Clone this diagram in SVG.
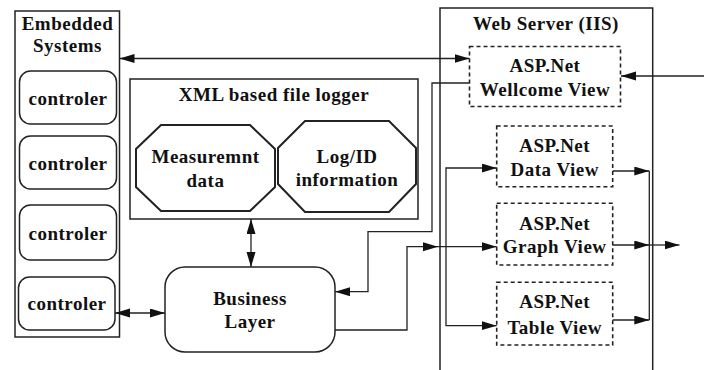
<svg xmlns="http://www.w3.org/2000/svg" width="704" height="370" viewBox="0 0 704 370">
<style>
text{font-family:"Liberation Serif","Times New Roman",serif;font-weight:bold;font-size:19px;fill:#111;text-anchor:middle;letter-spacing:0.5px}
.box{fill:#fff;stroke:#222;stroke-width:1.5}
.oct{fill:#fff;stroke:#222;stroke-width:2}
.dash{fill:#fff;stroke:#222;stroke-width:1.6;stroke-dasharray:4 3}
.ln{fill:none;stroke:#222;stroke-width:1.3}
.arr{marker-end:url(#ah)}
.dbl{marker-start:url(#ah);marker-end:url(#ah)}
</style>
<defs>
<marker id="ah" markerUnits="userSpaceOnUse" markerWidth="16" markerHeight="10" refX="15" refY="4.5" orient="auto-start-reverse">
<path d="M0,0 L15,4.5 L0,9 z" fill="#111"/>
</marker>
</defs>
<rect width="704" height="370" fill="#fff"/>

<g id="embedded-systems">
<rect class="box" x="15" y="11" width="104.5" height="326"/>
<text x="67.5" y="30">Embedded</text>
<text x="67.5" y="52">Systems</text>
</g>
<g id="controler-1"><rect class="box" x="19.5" y="71" width="97" height="53" rx="11"/><text x="68" y="105">controler</text></g>
<g id="controler-2"><rect class="box" x="19.5" y="136" width="97" height="53" rx="11"/><text x="68" y="170">controler</text></g>
<g id="controler-3"><rect class="box" x="19.5" y="205" width="97" height="55" rx="11"/><text x="68" y="239.5">controler</text></g>
<g id="controler-4"><rect class="box" x="18.5" y="277" width="96.5" height="53" rx="11"/><text x="67" y="309.5">controler</text></g>

<g id="xml-logger">
<rect class="box" x="130" y="79" width="288" height="140"/>
<text x="274" y="100.5">XML based file logger</text>
</g>
<g id="measurement-data">
<polygon class="oct" points="161,125 250,125 275,149 275,187 250,211 161,211 136,187 136,149"/>
<text x="205.5" y="163">Measuremnt</text>
<text x="205.5" y="187">data</text>
</g>
<g id="log-id-information">
<polygon class="oct" points="305,121 389,121 416,148 416,184 389,212 305,212 278,184 278,148"/>
<text x="347" y="162.5">Log/ID</text>
<text x="347" y="186">information</text>
</g>

<g id="business-layer">
<rect class="box" x="165" y="267" width="170" height="85" rx="20"/>
<text x="250" y="305">Business</text>
<text x="250" y="328">Layer</text>
</g>

<g id="web-server">
<rect class="box" x="440" y="8" width="212.7" height="400" fill="none"/>
<text x="546" y="30">Web Server (IIS)</text>
</g>
<g id="wellcome-view">
<rect class="dash" x="469.5" y="46.5" width="151" height="60"/>
<text x="545" y="71.5">ASP.Net</text>
<text x="545" y="96">Wellcome View</text>
</g>
<g id="data-view">
<rect class="dash" x="496.7" y="126" width="116" height="60.7"/>
<text x="554.7" y="151.5">ASP.Net</text>
<text x="554.7" y="176">Data View</text>
</g>
<g id="graph-view">
<rect class="dash" x="496.7" y="203.3" width="116" height="61.7"/>
<text x="554.7" y="230">ASP.Net</text>
<text x="554.7" y="252.5">Graph View</text>
</g>
<g id="table-view">
<rect class="dash" x="496.7" y="282.3" width="116" height="62.7"/>
<text x="554.7" y="308.3">ASP.Net</text>
<text x="554.7" y="333.5">Table View</text>
</g>

<g id="connectors">
<line class="ln dbl" x1="119.5" y1="58.5" x2="469.5" y2="58.5"/>
<line class="ln arr" x1="704" y1="76" x2="621" y2="76"/>
<polyline class="ln arr" points="469.5,83 432,83 432,231.7 368,231.7 368,291.7 335,291.7"/>
<polyline class="ln arr" points="335,330 407,330 407,246.7 438,246.7"/>
<line class="ln arr" x1="438" y1="246.7" x2="496.7" y2="246.7"/>
<polyline class="ln dbl" points="496.7,168 446,168 446,325.7 496.7,325.7"/>
<line class="ln arr" x1="612.7" y1="171" x2="649.3" y2="171"/>
<line class="ln arr" x1="612.7" y1="245" x2="649.3" y2="245"/>
<line class="ln arr" x1="612.7" y1="320" x2="649.3" y2="320"/>
<line class="ln" x1="649.3" y1="171" x2="649.3" y2="320"/>
<line class="ln arr" x1="649.3" y1="245" x2="679.5" y2="245"/>
<line class="ln dbl" x1="251" y1="219" x2="251" y2="267"/>
<line class="ln dbl" x1="115" y1="313" x2="165" y2="313"/>
</g>
</svg>
